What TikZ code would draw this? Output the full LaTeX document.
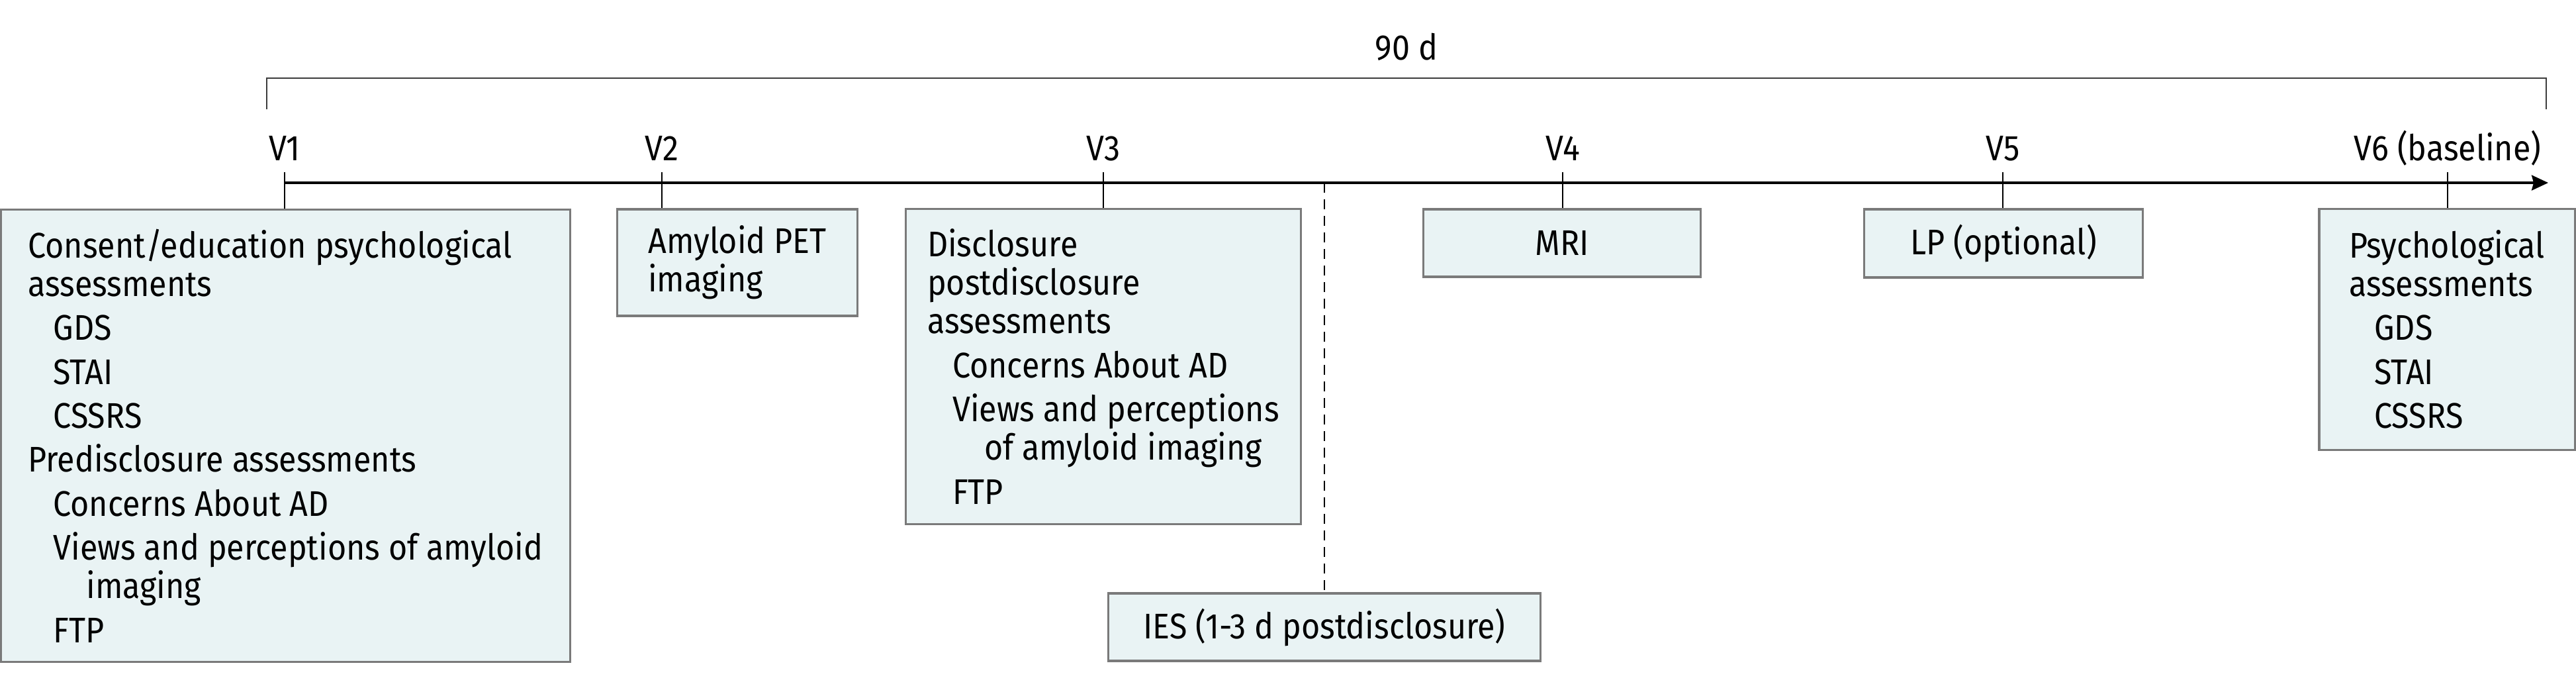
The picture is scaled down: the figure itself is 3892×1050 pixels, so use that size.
\documentclass[tikz,border=0pt]{standalone}
\usepackage{fontspec}
\setmainfont[FakeStretch=0.9]{Fira Sans}
\usepackage{tikz}
\usetikzlibrary{arrows.meta, positioning, calc}
\definecolor{boxfill}{RGB}{233,243,244}
\definecolor{boxline}{RGB}{122,122,122}
\definecolor{bracketgray}{RGB}{60,60,60}
\newcommand{\figtext}{\fontsize{15.3pt}{16.5pt}\selectfont}
\newcommand{\lvA}{\hspace*{0.38cm}}
\newcommand{\lvB}{\hspace*{0.88cm}}
\newcommand{\gapitem}{2.4pt}

\begin{document}
\begin{tikzpicture}[
    x=0.01cm, y=-0.01cm,
    visitbox/.style={rectangle, draw=boxline, fill=boxfill, line width=0.9pt,
        align=left, font=\figtext, inner sep=0pt},
    vlabel/.style={font=\figtext, anchor=base, inner sep=0pt},
    ticks/.style={line width=0.8pt},
    arr/.style={-{Stealth[length=0.25cm, width=0.23cm, inset=0.03cm]}, line width=0.9pt},
]
\useasboundingbox (0,0) rectangle (3892,1050);

% visit boxes
\node[visitbox, minimum width=8.59cm, minimum height=6.82cm] (b1) at (431.5,658) {%
    Consent/education psychological\\
    assessments\\[\gapitem]
    \lvA GDS\\[\gapitem]
    \lvA STAI\\[\gapitem]
    \lvA CSSRS\\[\gapitem]
    Predisclosure assessments\\[\gapitem]
    \lvA Concerns About AD\\[\gapitem]
    \lvA Views and perceptions of amyloid\\
    \lvB imaging\\[\gapitem]
    \lvA FTP};
\node[visitbox, minimum width=3.62cm, minimum height=1.61cm] (b2) at (1114,396.5) {%
    Amyloid PET\\
    imaging};
\node[visitbox, minimum width=5.96cm, minimum height=4.75cm] (b3) at (1667,553.5) {%
    Disclosure\\
    postdisclosure\\
    assessments\\[\gapitem]
    \lvA Concerns About AD\\[\gapitem]
    \lvA Views and perceptions\\
    \hspace*{0.86cm}of amyloid imaging\\[\gapitem]
    \lvA FTP};
\node[visitbox, minimum width=4.18cm, minimum height=1.02cm] (b4) at (2360,367) {MRI};
\node[visitbox, minimum width=4.20cm, minimum height=1.03cm] (b5) at (3027,367.5) {LP (optional)};
\node[visitbox, minimum width=3.86cm, minimum height=3.63cm] (b6) at (3697,497.5) {%
    Psychological\\
    assessments\\[\gapitem]
    \lvA GDS\\[\gapitem]
    \lvA STAI\\[\gapitem]
    \lvA CSSRS};
\node[visitbox, minimum width=6.52cm, minimum height=1.02cm] (ies) at (2001,947) {IES (1-3 d postdisclosure)};

% timeline
\coordinate (tstart) at (430,276);
\coordinate (tend) at (3850,276);
\draw[arr] (tstart) -- (tend);

\foreach \i/\x/\txt in {1/430/V1, 2/1000/V2, 3/1667/V3, 4/2361/V4, 5/3026/V5, 6/3698/V6 (baseline)} {
    \coordinate (v\i) at (\x,276);
    \node[vlabel] (lab\i) at (\x,242) {\txt};
    \draw[ticks] ([yshift=0.16cm]v\i) -- (v\i |- b\i.north);
}

% disclosure marker
\coordinate (dmark) at (2001,276);
\draw[ticks, dash pattern=on 0.15cm off 0.1cm] (dmark) -- (ies.north);

% 90 day bracket
\coordinate (brl) at (403,165);
\coordinate (brr) at (3847,165);
\draw[line width=0.8pt, draw=bracketgray] (brl) -- ++(0,-47) -| (brr);
\node[vlabel] (span) at (2125,90) {90 d};
\end{tikzpicture}
\end{document}
